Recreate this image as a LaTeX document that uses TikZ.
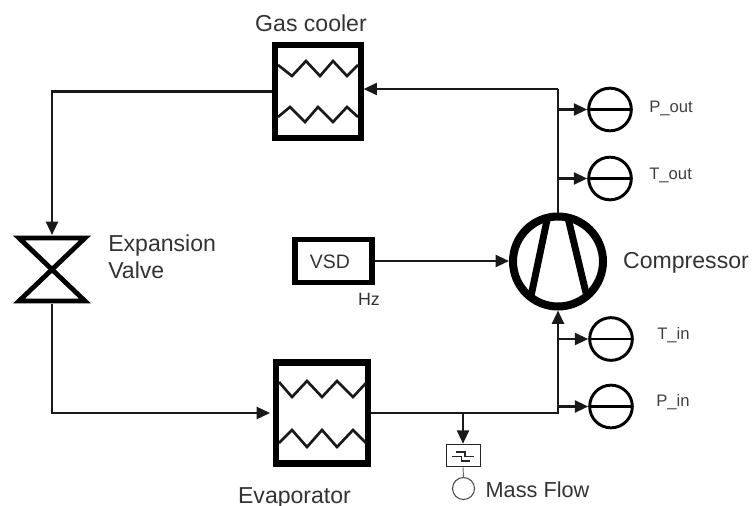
\documentclass[tikz,border=0pt]{standalone}
\usepackage{fontspec}
\setmainfont{Liberation Sans}
\usetikzlibrary{arrows.meta}
\tikzset{x=0.75pt,y=-0.75pt,
 pipe/.style={line width=1.6pt,color=black!90,-{Triangle[length=10pt,width=9pt]}},
 plainpipe/.style={line width=1.6pt,color=black!90},
 hx/.style={draw=black,inner sep=0pt},
 zig/.style={line width=2pt,black!90},
 gauge/.style={circle,draw=black,line width=2.2pt,minimum size=32pt,inner sep=0pt,path picture={\draw[line width=2.1pt] (path picture bounding box.west) -- (path picture bounding box.east);}},
 lab/.style={font=\fontsize{17.3pt}{20pt}\selectfont,text=black!80,inner sep=0pt},
 slab/.style={font=\fontsize{12.5pt}{15pt}\selectfont,text=black!75,inner sep=0pt}}
\begin{document}
\begin{tikzpicture}
\useasboundingbox (0,0) rectangle (752,506);
% heat exchangers
\node[hx,line width=4.4pt,minimum width=64pt,minimum height=70pt] (gc) at (318,91.5) {};
\node[hx,line width=4.9pt,minimum width=69pt,minimum height=75.75pt] (ev) at (322,413) {};
\draw[zig] (278,65)--(292,76)--(306,61)--(320,76)--(333,61)--(347,76)--(358,65);
\draw[zig] (278,117)--(290,107)--(305,122)--(318,107)--(333,122)--(347,107)--(358,117);
\draw[zig] (279,382)--(292,397)--(307,381)--(322,397)--(337,381)--(353,397)--(366,383);
\draw[zig] (279,443)--(292,430)--(307,447)--(322,430)--(337,447)--(353,430)--(366,443);
% valve
\coordinate (vt) at (52,235);
\coordinate (vb) at (52,304);
\draw[line width=3.6pt,line join=miter,black] (19,238)--(85,238)--(19,301)--(85,301)--cycle;
% vsd
\node[hx,line width=4.2pt,minimum width=58pt,minimum height=32pt] (vsd) at (333.5,261) {};
\node[font=\fontsize{14.6pt}{17pt}\selectfont,text=black!80,inner sep=0pt] (vsdt) at (330,262) {VSD};
% compressor
\node[circle,draw=black,line width=6pt,minimum size=67.5pt,inner sep=0pt] (cp) at (558,261.5) {};
\coordinate (bl1) at (547,220);
\coordinate (bl2) at (531,296);
\coordinate (br1) at (568.5,220);
\coordinate (br2) at (586,293);
\draw[line width=5.2pt] (bl1)--(bl2) (br1)--(br2);
% gauges
\node[gauge] (po) at (610,109.5) {};
\node[gauge] (to) at (610,178.5) {};
\node[gauge] (ti) at (611,339) {};
\node[gauge] (pi) at (611,406.5) {};
% junctions
\coordinate (j1) at (558,89);
\coordinate (j2) at (558,109.5);
\coordinate (j3) at (558,178.5);
\coordinate (j4) at (558,339);
\coordinate (j5) at (558,413);
\coordinate (j7) at (558,406.5);
\coordinate (j6) at (463,413);
% pipes
\draw[plainpipe] (cp.north) -- (j1);
\draw[pipe] (j1) -- (j1 -| gc.east);
\draw[pipe] (j2) -- (po.west);
\draw[pipe] (j3) -- (to.west);
\draw[pipe] (gc.west) -| (vt);
\draw[pipe,shorten >=2pt] (vb) |- (ev.west);
\draw[plainpipe,line join=miter] (ev.east) -- (j5) -- (j7);
\draw[pipe] (j7) -- (cp.south);
\draw[pipe] (j4) -- (ti.west);
\draw[pipe] (j7) -- (pi.west);
\draw[pipe] (vsd.east) -- (vsd.east -| cp.west);
% mass flow
\node[draw=black!85,line width=.7pt,minimum width=25.5pt,minimum height=17pt,inner sep=0pt] (mf) at (463,455.5) {};
\draw[line width=.8pt,black!85] (456,452)--(465,452)--(465,456.5)--(474,456.5) (451.7,456.5)--(461.7,456.5)--(461.7,461)--(470,461);
\node[circle,draw=black!70,line width=.8pt,minimum size=16.5pt,inner sep=0pt] (mc) at (463.5,488.5) {};
\draw[pipe] (j6) -- (mf.north);
\draw[line width=.7pt,black!60] (mf.south) -- (mc.north);
% labels
\node[lab] (l1) at (311,23.5) {Gas cooler};
\node[lab,align=left,anchor=west] (l2) at (108,256.5) {Expansion\\[0pt]Valve};
\node[font=\fontsize{13.4pt}{15pt}\selectfont,text=black!80,inner sep=0pt] (l3) at (369,299) {Hz};
\node[lab] (l4) at (686,262.5) {Compressor};
\node[lab] (l5) at (294.5,497.5) {Evaporator};
\node[font=\fontsize{16.3pt}{19pt}\selectfont,text=black!80,inner sep=0pt] (l6) at (537.5,490) {Mass Flow};
\node[slab,anchor=west] (l7) at (649,108) {P\_out};
\node[slab,anchor=west] (l8) at (649,175) {T\_out};
\node[slab,anchor=west] (l9) at (657,335) {T\_in};
\node[slab,anchor=west] (l10) at (656,402) {P\_in};
\end{tikzpicture}
\end{document}
